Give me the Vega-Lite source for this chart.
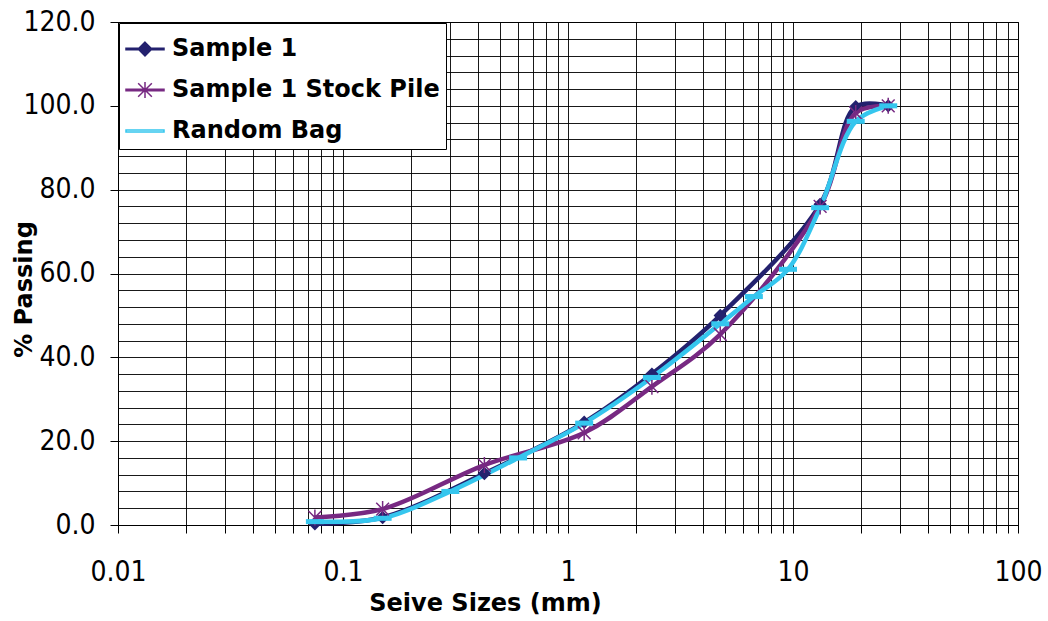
{
  "$schema": "https://vega.github.io/schema/vega-lite/v6.json",
  "width": 900,
  "height": 503,
  "autosize": {"type": "none"},
  "padding": {"left": 118, "top": 22, "right": 30, "bottom": 96},
  "background": "white",
  "config": {
    "view": {"stroke": "black", "strokeWidth": 1}
  },
  "data": {
    "values": [
      {"series": "Sample 1", "size": 0.075, "pass": 0.3},
      {"series": "Sample 1", "size": 0.15, "pass": 1.8},
      {"series": "Sample 1", "size": 0.425, "pass": 12.3},
      {"series": "Sample 1", "size": 1.18, "pass": 24.5},
      {"series": "Sample 1", "size": 2.36, "pass": 36},
      {"series": "Sample 1", "size": 4.75, "pass": 50},
      {"series": "Sample 1", "size": 13.2, "pass": 76.5},
      {"series": "Sample 1", "size": 19, "pass": 99.8},
      {"series": "Sample 1", "size": 26.5, "pass": 100},
      {"series": "Sample 1 Stock Pile", "size": 0.075, "pass": 1.8},
      {"series": "Sample 1 Stock Pile", "size": 0.15, "pass": 3.8},
      {"series": "Sample 1 Stock Pile", "size": 0.425, "pass": 14.3},
      {"series": "Sample 1 Stock Pile", "size": 1.18, "pass": 22},
      {"series": "Sample 1 Stock Pile", "size": 2.36, "pass": 33},
      {"series": "Sample 1 Stock Pile", "size": 4.75, "pass": 45.5},
      {"series": "Sample 1 Stock Pile", "size": 13.2, "pass": 76},
      {"series": "Sample 1 Stock Pile", "size": 19, "pass": 98.3},
      {"series": "Sample 1 Stock Pile", "size": 26.5, "pass": 100},
      {"series": "Random Bag", "size": 0.075, "pass": 0.8},
      {"series": "Random Bag", "size": 0.15, "pass": 1.6},
      {"series": "Random Bag", "size": 0.3, "pass": 8},
      {"series": "Random Bag", "size": 0.6, "pass": 16},
      {"series": "Random Bag", "size": 1.18, "pass": 24.3},
      {"series": "Random Bag", "size": 2.36, "pass": 35.2},
      {"series": "Random Bag", "size": 4.75, "pass": 48},
      {"series": "Random Bag", "size": 6.7, "pass": 54.5},
      {"series": "Random Bag", "size": 9.5, "pass": 61},
      {"series": "Random Bag", "size": 13.2, "pass": 75.7},
      {"series": "Random Bag", "size": 19, "pass": 96.3},
      {"series": "Random Bag", "size": 26.5, "pass": 100}
    ]
  },
  "encoding": {
    "x": {
      "field": "size",
      "type": "quantitative",
      "scale": {"type": "log", "domain": [0.01, 100], "nice": false},
      "axis": {
        "title": "Seive Sizes (mm)",
        "values": [0.01, 0.02, 0.03, 0.04, 0.05, 0.06, 0.07, 0.08, 0.09, 0.1, 0.2, 0.3, 0.4, 0.5, 0.6, 0.7, 0.8, 0.9, 1, 2, 3, 4, 5, 6, 7, 8, 9, 10, 20, 30, 40, 50, 60, 70, 80, 90, 100],
        "labelExpr": "indexof([0.01, 0.1, 1, 10, 100], datum.value) >= 0 ? format(datum.value, '~g') : ''",
        "labelOverlap": false,
        "labelFlush": false,
        "labelFont": "DejaVu Sans Condensed, Liberation Sans",
        "labelFontSize": 28,
        "labelColor": "black",
        "labelBaseline": "alphabetic",
        "labelPadding": 47,
        "tickSize": 8,
        "tickColor": "black",
        "domainColor": "black",
        "grid": true,
        "gridColor": "black",
        "gridWidth": 1,
        "gridOpacity": 0.9,
        "titleFont": "DejaVu Sans",
        "titleFontWeight": "bold",
        "titleFontSize": 24,
        "titleColor": "black",
        "titleX": 367,
        "titleY": 85,
        "titleAlign": "center",
        "titleBaseline": "alphabetic"
      }
    },
    "y": {
      "field": "pass",
      "type": "quantitative",
      "scale": {"domain": [0, 120], "nice": false},
      "axis": {
        "title": "% Passing",
        "values": [0, 4, 8, 12, 16, 20, 24, 28, 32, 36, 40, 44, 48, 52, 56, 60, 64, 68, 72, 76, 80, 84, 88, 92, 96, 100, 104, 108, 112, 116, 120],
        "labelExpr": "datum.value % 20 === 0 ? format(datum.value, '.1f') : ''",
        "labelOverlap": false,
        "labelFont": "DejaVu Sans Condensed, Liberation Sans",
        "labelFontSize": 28,
        "labelColor": "black",
        "labelPadding": 15,
        "tickSize": 8,
        "tickColor": {"condition": {"test": "datum.value % 20 === 0", "value": "black"}, "value": "transparent"},
        "domainColor": "black",
        "grid": true,
        "gridColor": "black",
        "gridWidth": 1,
        "gridOpacity": 0.9,
        "titleFont": "DejaVu Sans",
        "titleFontWeight": "bold",
        "titleFontSize": 24,
        "titleColor": "black",
        "titleAngle": -90,
        "titleX": -87,
        "titleY": 267,
        "titleAlign": "center",
        "titleBaseline": "alphabetic"
      }
    }
  },
  "layer": [
    {
      "mark": {"type": "point", "filled": false, "opacity": 0, "strokeWidth": 1.5},
      "encoding": {
        "color": {
          "field": "series",
          "type": "nominal",
          "scale": {
            "domain": ["Sample 1", "Sample 1 Stock Pile", "Random Bag"],
            "range": ["#23216E", "#772982", "#35C6EE"]
          },
          "legend": {
            "title": null,
            "orient": "top-left",
            "offset": 1,
            "padding": 6,
            "fillColor": "white",
            "strokeColor": "black",
            "labelFont": "DejaVu Sans",
            "labelFontWeight": "bold",
            "labelFontSize": 24,
            "labelColor": "black",
            "labelLimit": 500,
            "labelOffset": 7,
            "rowPadding": 9,
            "symbolSize": 1444,
            "symbolOpacity": 1,
            "symbolStrokeWidth": 1.5
          }
        },
        "shape": {
          "field": "series",
          "type": "nominal",
          "scale": {
            "domain": ["Sample 1", "Sample 1 Stock Pile", "Random Bag"],
            "range": [
              "M-1,-0.04L1,-0.04L1,0.04L-1,0.04ZM0,-0.36L0.36,0L0,0.36L-0.36,0ZM0,-0.27L0.27,0L0,0.27L-0.27,0ZM0,-0.18L0.18,0L0,0.18L-0.18,0ZM0,-0.09L0.09,0L0,0.09L-0.09,0Z",
              "M-1,-0.04L1,-0.04L1,0.04L-1,0.04ZM0,-0.42L0,0.42M-0.36,-0.36L0.36,0.36M-0.36,0.36L0.36,-0.36",
              "M-1,-0.05L1,-0.05L1,0.05L-1,0.05Z"
            ]
          },
          "legend": {
            "title": null,
            "orient": "top-left",
            "offset": 1,
            "padding": 6,
            "fillColor": "white",
            "strokeColor": "black",
            "labelFont": "DejaVu Sans",
            "labelFontWeight": "bold",
            "labelFontSize": 24,
            "labelColor": "black",
            "labelLimit": 500,
            "labelOffset": 7,
            "rowPadding": 9,
            "symbolSize": 1444,
            "symbolOpacity": 1,
            "symbolStrokeWidth": 1.5
          }
        }
      }
    },
    {
      "mark": {"type": "line", "interpolate": "catmull-rom", "strokeWidth": 4.5},
      "encoding": {
        "color": {
          "field": "series",
          "type": "nominal",
          "sort": ["Sample 1", "Sample 1 Stock Pile", "Random Bag"],
          "scale": {
            "domain": ["Sample 1", "Sample 1 Stock Pile", "Random Bag"],
            "range": ["#23216E", "#772982", "#35C6EE"]
          },
          "legend": null
        }
      }
    },
    {
      "transform": [{"filter": "datum.series === 'Sample 1'"}],
      "mark": {"type": "point", "shape": "diamond", "size": 180, "filled": true, "color": "#23216E", "opacity": 1}
    },
    {
      "transform": [{"filter": "datum.series === 'Sample 1 Stock Pile'"}],
      "mark": {"type": "point", "shape": "M0,-1L0,1M-0.8,-0.8L0.8,0.8M-0.8,0.8L0.8,-0.8", "size": 256, "filled": false, "color": "#772982", "strokeWidth": 1.5, "opacity": 1}
    },
    {
      "transform": [{"filter": "datum.series === 'Random Bag'"}],
      "mark": {"type": "point", "shape": "M-1,-0.28L1,-0.28L1,0.28L-1,0.28Z", "size": 324, "filled": true, "color": "#35C6EE", "opacity": 1}
    }
  ]
}
